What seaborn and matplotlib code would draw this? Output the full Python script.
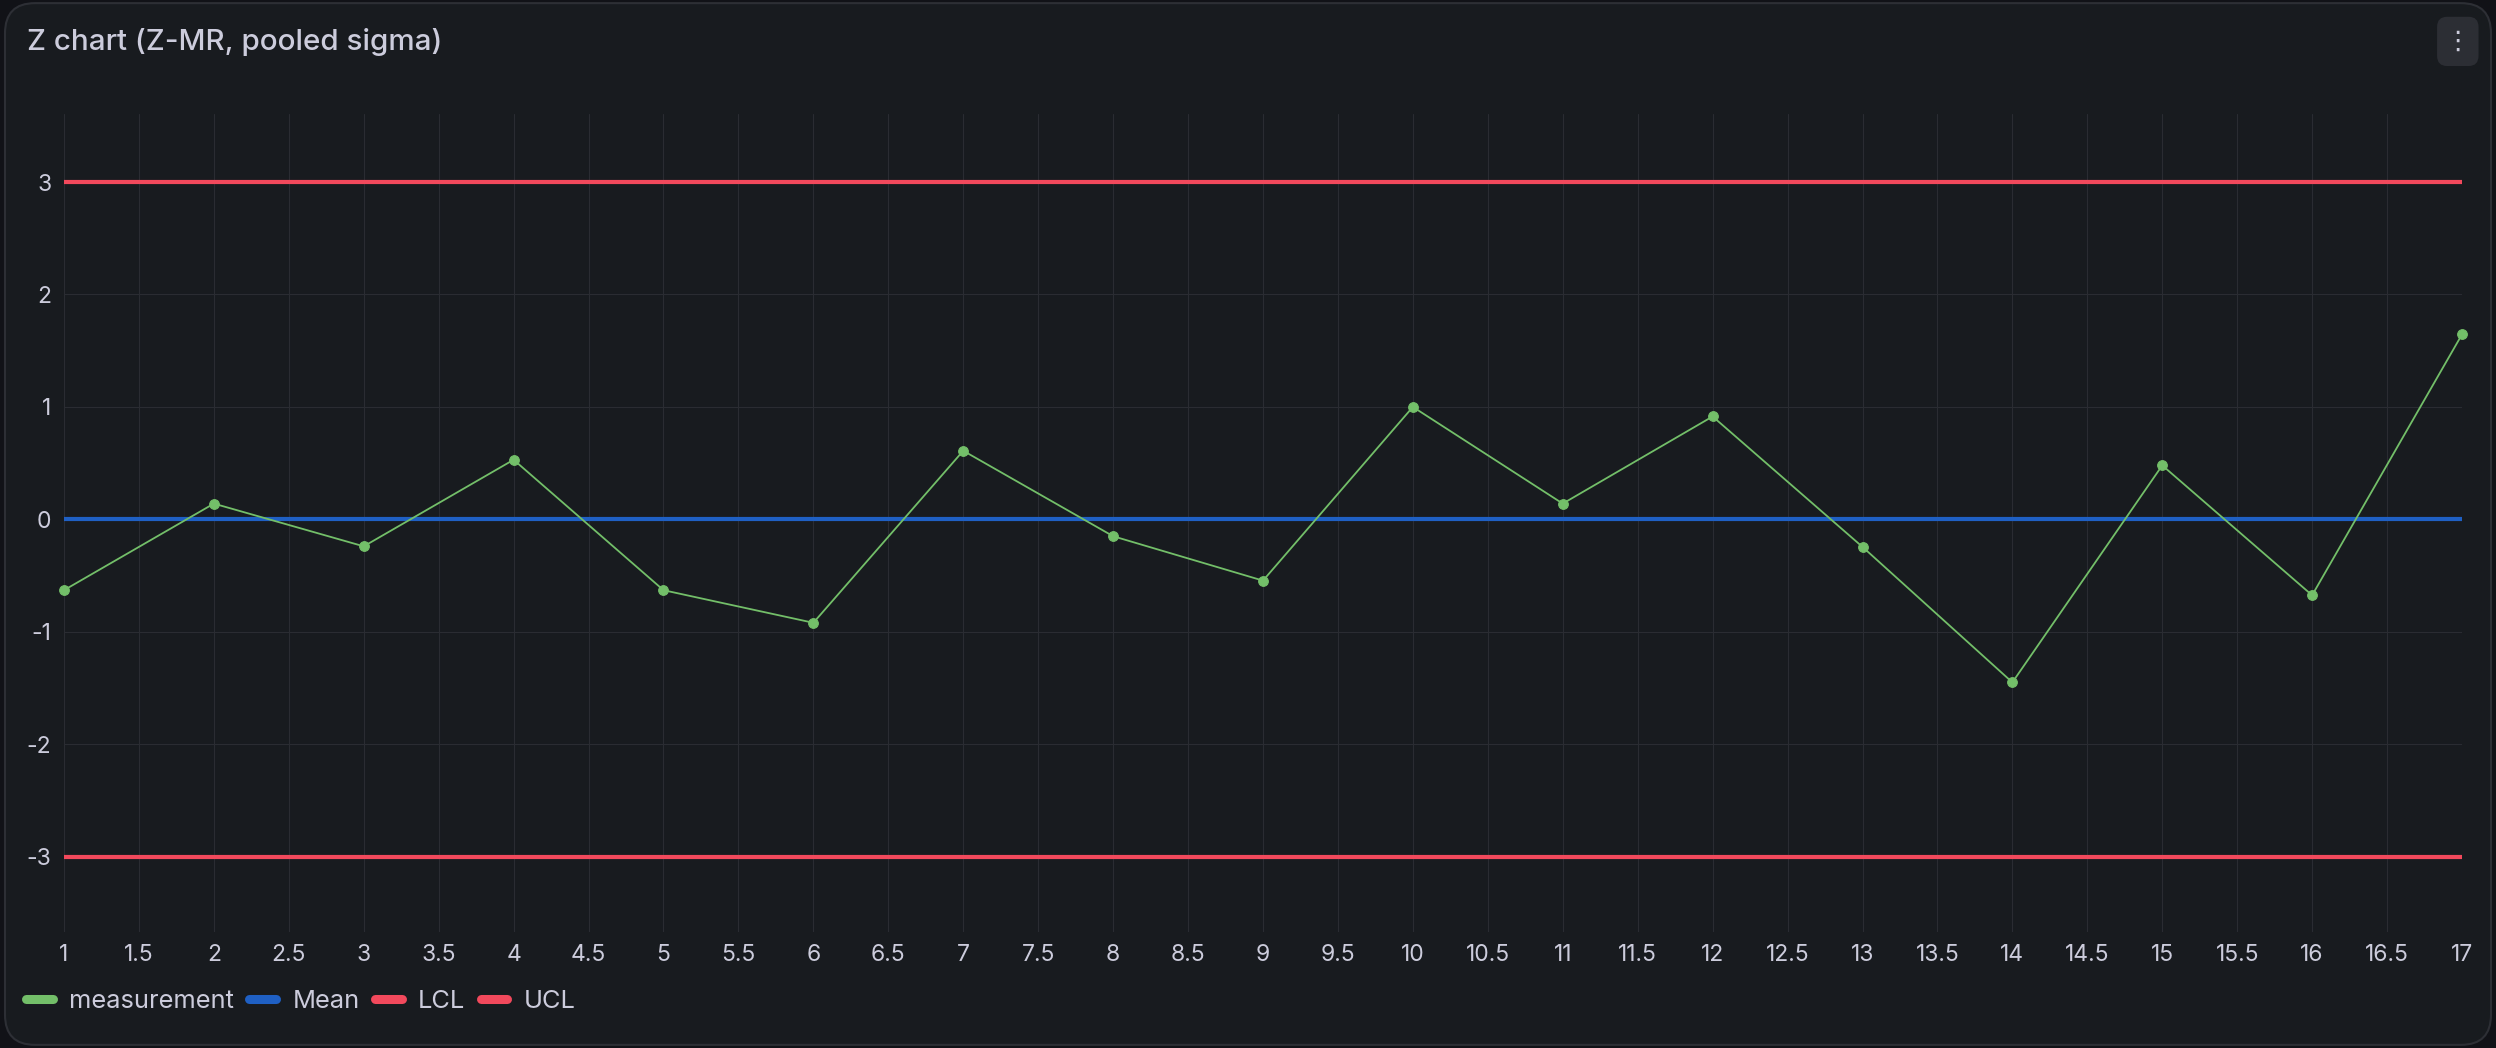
import numpy as np
import pandas as pd
import matplotlib
matplotlib.use("Agg")
import matplotlib.pyplot as plt
from matplotlib.patches import FancyBboxPatch
import seaborn as sns

# data
samples = list(range(1, 18))
z_values = [-0.63, 0.14, -0.24, 0.53, -0.63, -0.92, 0.61, -0.15, -0.545,
            1.0, 0.14, 0.915, -0.245, -1.45, 0.48, -0.675, 1.645]
mean_value = 0
lcl_value = -3
ucl_value = 3
y_ticks = [-3, -2, -1, 0, 1, 2, 3]
x_ticks = np.arange(1, 17.5, 0.5)

bg = "#181b1f"
text_col = "#ccccdc"
grid_col = "#2a2c32"
green = "#73bf69"
blue = "#1f60c4"
red = "#f2495c"

sns.set_theme(style="dark")
plt.rcParams["font.family"] = ["Inter", "DejaVu Sans"]
plt.rcParams["axes.unicode_minus"] = False

df = pd.DataFrame({"sample": samples, "z": z_values})

fig = plt.figure(figsize=(24.96, 10.48), dpi=100)
fig.patch.set_facecolor("#111217")
panel = FancyBboxPatch((0.002, 0.003), 0.996, 0.994,
                       boxstyle="round,pad=0,rounding_size=0.012",
                       transform=fig.transFigure, facecolor=bg,
                       edgecolor="#2d2f35", linewidth=1.5, mutation_aspect=2.4,
                       zorder=-10)
fig.patches.append(panel)

ax = fig.add_axes([0.02564, 0.1107, 0.96074, 0.7805])
ax.set_zorder(1)
ax.set_facecolor(bg)

sns.lineplot(data=df, x="sample", y="z", ax=ax, color=green, linewidth=1.3,
             marker="o", markersize=7, markeredgecolor=green,
             label="measurement", zorder=5)
ax.lines[0].set_clip_on(False)
ax.axhline(mean_value, color=blue, linewidth=3, label="Mean", zorder=4)
ax.axhline(lcl_value, color=red, linewidth=3, label="LCL", zorder=4)
ax.axhline(ucl_value, color=red, linewidth=3, label="UCL", zorder=4)

ax.set_xlim(1, 17)
ax.set_ylim(-3.67, 3.605)
ax.set_xticks(x_ticks)
ax.set_xticklabels([f"{t:g}" for t in x_ticks])
ax.set_yticks(y_ticks)
ax.set_yticklabels([str(t) for t in y_ticks])
ax.set_xlabel("")
ax.set_ylabel("")
ax.tick_params(axis="both", length=0, labelsize=16.5, colors=text_col)
ax.tick_params(axis="x", pad=9)
ax.tick_params(axis="y", pad=9)
ax.grid(True, color=grid_col, linewidth=0.8)
for s in ax.spines.values():
    s.set_visible(False)

leg = ax.legend(loc="center left", bbox_to_anchor=(0.0104, 0.044),
                bbox_transform=fig.transFigure, ncol=4, frameon=False,
                fontsize=18.3, handlelength=1.05, handletextpad=0.65,
                columnspacing=0.6, borderaxespad=0, borderpad=0)
for txt in leg.get_texts():
    txt.set_color(text_col)
for line in leg.get_lines():
    line.set_linewidth(6.5)
    line.set_marker("")
    line.set_solid_capstyle("round")

fig.text(0.0108, 0.96, "Z chart (Z-MR, pooled sigma)", fontsize=21.3,
         fontweight="medium", color=text_col, va="center", ha="left")

# menu button top right
btn = FancyBboxPatch((0.9764, 0.937), 0.0166, 0.047,
                     boxstyle="round,pad=0,rounding_size=0.004",
                     transform=fig.transFigure, facecolor="#2c2e34",
                     edgecolor="none", mutation_aspect=2.4, zorder=-5)
fig.patches.append(btn)
fig.text(0.9847, 0.9605, "\u22ee", fontsize=19, color=text_col,
         ha="center", va="center", family=["DejaVu Sans"])

fig.savefig("out.png", dpi=100, facecolor=fig.get_facecolor())
